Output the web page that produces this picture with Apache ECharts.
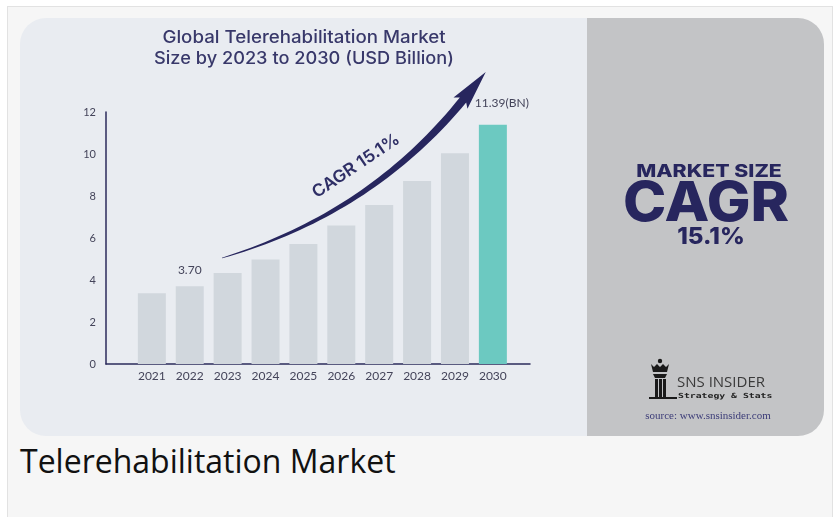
<!DOCTYPE html>
<html>
<head>
<meta charset="utf-8">
<script src="https://cdn.jsdelivr.net/npm/echarts@6/dist/echarts.min.js"></script>
<style>
  html, body { margin: 0; padding: 0; background: #ffffff; width: 840px; height: 517px; overflow: hidden; }
  #frame { position: absolute; left: 7px; top: 6px; width: 826px; height: 520px; background: #f6f6f6; border: 1px solid #e2e2e2; box-sizing: border-box; }
  #card { position: absolute; left: 20px; top: 18px; width: 804px; height: 418px; border-radius: 26px; overflow: hidden;
          background: linear-gradient(to right, #e9ecf1 0px, #e9ecf1 567px, #c3c4c6 567px, #c3c4c6 804px); }
  #caption { position: absolute; left: 20px; top: 439px; font-family: "Open Sans", sans-serif; font-size: 32px; color: #111; line-height: normal; white-space: nowrap; }
  #chart { position: absolute; left: 0; top: 0; width: 840px; height: 517px; }
</style>
</head>
<body>
<div id="frame"></div>
<div id="card"></div>
<div id="caption">Telerehabilitation Market</div>
<div id="chart"></div>
<script>
// ---- data ----
const years = [2021, 2022, 2023, 2024, 2025, 2026, 2027, 2028, 2029, 2030];
const values = [3.37, 3.70, 4.33, 4.98, 5.71, 6.59, 7.57, 8.71, 10.03, 11.39];
const valueLabels = { 2022: '3.70', 2030: '11.39(BN)' };
const yTicks = [0, 2, 4, 6, 8, 10, 12];
const titleLines = ['Global Telerehabilitation Market', 'Size by 2023 to 2030 (USD Billion)'];
const cagrText = 'CAGR 15.1%';

const chart = echarts.init(document.getElementById('chart'), null, { renderer: 'canvas' });

const navy = '#27265e';
const barData = years.map((y, i) => {
  const item = { value: [y, values[i]] };
  if (y === 2030) item.itemStyle = { color: '#6cc9c1' };
  if (valueLabels[y]) {
    item.label = { show: true, position: 'top', formatter: valueLabels[y],
      distance: y === 2030 ? 16 : 10, offset: y === 2030 ? [9, 0] : [0, 0],
      color: '#44445a', fontSize: 12, fontFamily: 'Lato, sans-serif' };
  }
  return item;
});

// arrow outline (decoration) built in pixel space
function arrowPoints() {
  const p0 = [222, 258], c = [370, 214], p1 = [463, 100];
  const n = 40, up = [], lo = [];
  let lastDir = null;
  for (let i = 0; i <= n; i++) {
    const t = i / n;
    const x = (1 - t) * (1 - t) * p0[0] + 2 * (1 - t) * t * c[0] + t * t * p1[0];
    const y = (1 - t) * (1 - t) * p0[1] + 2 * (1 - t) * t * c[1] + t * t * p1[1];
    let dx = 2 * (1 - t) * (c[0] - p0[0]) + 2 * t * (p1[0] - c[0]);
    let dy = 2 * (1 - t) * (c[1] - p0[1]) + 2 * t * (p1[1] - c[1]);
    const L = Math.hypot(dx, dy); dx /= L; dy /= L;
    lastDir = [dx, dy];
    const hw = 0.3 + 3.8 * Math.pow(t, 0.8);
    up.push([x + dy * hw, y - dx * hw]);
    lo.push([x - dy * hw, y + dx * hw]);
  }
  const [dx, dy] = lastDir;
  const hw = 9, hl = 36;
  const tip = [p1[0] + dx * hl, p1[1] + dy * hl];
  const hA = [p1[0] + dy * hw - dx * 4, p1[1] - dx * hw - dy * 4];
  const hB = [p1[0] - dy * hw - dx * 4, p1[1] + dx * hw - dy * 4];
  return up.concat([hA, tip, hB]).concat(lo.reverse());
}

const graphics = [
  { type: 'text', x: 304, y: 38, scaleX: 1.1, style: { text: titleLines[0], fill: '#38386a', font: '500 17px Inter, sans-serif', align: 'center', verticalAlign: 'middle' } },
  { type: 'text', x: 304, y: 58.5, scaleX: 1.07, style: { text: titleLines[1], fill: '#38386a', font: '500 17px Inter, sans-serif', align: 'center', verticalAlign: 'middle' } },
  { type: 'polygon', shape: { points: arrowPoints() }, style: { fill: navy } },
  { type: 'text', x: 356, y: 166, rotation: 34 * Math.PI / 180, scaleX: 1.04,
    style: { text: cagrText, fill: '#2f2f66', font: '600 17px Inter, sans-serif', align: 'center', verticalAlign: 'middle' } },
  { type: 'text', x: 709, y: 172, scaleX: 1.25, style: { text: 'MARKET SIZE', fill: navy, font: '800 17px Inter, sans-serif', align: 'center', verticalAlign: 'middle' } },
  { type: 'text', x: 706, y: 204, scaleX: 1.06, style: { text: 'CAGR', fill: navy, font: '800 55px Inter, sans-serif', align: 'center', verticalAlign: 'middle' } },
  { type: 'text', x: 711, y: 237, scaleX: 1.05, style: { text: '15.1%', fill: navy, font: '800 23px Inter, sans-serif', align: 'center', verticalAlign: 'middle' } },
  // logo (rook icon)
  { type: 'circle', shape: { cx: 660, cy: 361, r: 2.2 }, style: { fill: '#1a1a1a' } },
  { type: 'polygon', shape: { points: [[651, 364], [654, 367], [657, 364], [660, 367], [663, 364], [666, 367], [669, 364], [667, 372], [653, 372]] }, style: { fill: '#1a1a1a' } },
  { type: 'polygon', shape: { points: [[653, 374], [667, 374], [665, 378], [655, 378]] }, style: { fill: '#1a1a1a' } },
  { type: 'rect', shape: { x: 655, y: 379, width: 3, height: 20 }, style: { fill: '#1a1a1a' } },
  { type: 'rect', shape: { x: 659, y: 379, width: 3, height: 20 }, style: { fill: '#1a1a1a' } },
  { type: 'rect', shape: { x: 663, y: 379, width: 3, height: 20 }, style: { fill: '#1a1a1a' } },
  { type: 'rect', shape: { x: 649, y: 397, width: 28, height: 2 }, style: { fill: '#1a1a1a' } },
  { type: 'text', x: 677, y: 383, style: { text: 'SNS INSIDER', fill: '#3a3a3a', font: '15px "Open Sans", sans-serif', verticalAlign: 'middle' } },
  { type: 'text', x: 678, y: 396, scaleX: 1.4, style: { text: 'Strategy & Stats', fill: '#222222', font: 'bold 7px "DejaVu Sans Mono", monospace', verticalAlign: 'middle' } },
  { type: 'text', x: 708, y: 416, style: { text: 'source: www.snsinsider.com', fill: '#3c3c78', font: '11px "Liberation Serif", serif', align: 'center', verticalAlign: 'middle' } }
];

chart.setOption({
  backgroundColor: 'transparent',
  animation: false,
  grid: { left: 106, right: 310, top: 112, bottom: 153, containLabel: false },
  xAxis: {
    type: 'value', min: 2019.79, max: 2030.98,
    axisLine: { show: true, lineStyle: { color: '#2b2b5b', width: 1.5 } },
    axisTick: { show: false },
    splitLine: { show: false },
    axisLabel: { customValues: years, formatter: v => String(v), color: '#44445a', fontSize: 12, fontFamily: 'Lato, sans-serif', margin: 6 }
  },
  yAxis: {
    type: 'value', min: 0, max: 12, interval: 2,
    axisLine: { show: true, lineStyle: { color: '#2b2b5b', width: 1.5 } },
    axisTick: { show: false },
    splitLine: { show: false },
    axisLabel: { color: '#44445a', fontSize: 11, fontFamily: 'Lato, sans-serif', margin: 10,
      customValues: yTicks, formatter: v => String(v) }
  },
  series: [{
    type: 'bar', data: barData, barWidth: 28,
    itemStyle: { color: '#d1d7dd' }
  }],
  graphic: graphics
});
</script>
</body>
</html>
